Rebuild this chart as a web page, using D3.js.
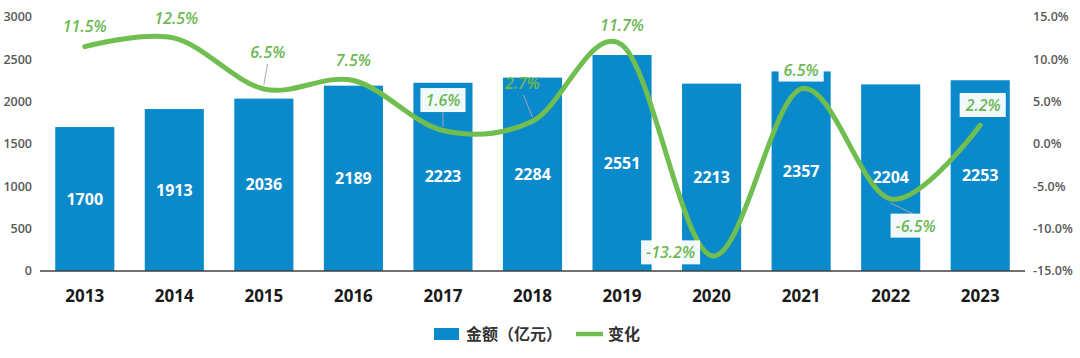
<!DOCTYPE html>
<meta charset="utf-8">
<style>
body { margin: 0; background: #fff; }
text { font-family: "Open Sans", "Noto Sans CJK SC", sans-serif; }
</style>
<svg width="1080" height="358"></svg>
<script src="https://d3js.org/d3.v7.min.js"></script>
<script>

// data
var years = ["2013", "2014", "2015", "2016", "2017", "2018", "2019", "2020", "2021", "2022", "2023"];
var amounts = [1700, 1913, 2036, 2189, 2223, 2284, 2551, 2213, 2357, 2204, 2253];
var changes = [11.5, 12.5, 6.5, 7.5, 1.6, 2.7, 11.7, -13.2, 6.5, -6.5, 2.2];
var leftTicks = [0, 500, 1000, 1500, 2000, 2500, 3000];
var rightTicks = [-15, -10, -5, 0, 5, 10, 15];

// label placement for the % labels (dx, dy from the point, boxed, leader)
var labelLayout = [
  { dx: 0,   dy: -20, box: false, leader: false },
  { dx: 2,   dy: -20, box: false, leader: false },
  { dx: 4,   dy: -37, box: false, leader: true },
  { dx: 0,   dy: -20, box: false, leader: false },
  { dx: 0,   dy: -30, box: true,  leader: true },
  { dx: -10, dy: -38, box: false, leader: true },
  { dx: 0,   dy: -20, box: false, leader: false },
  { dx: -41, dy: -3,  box: true,  leader: false },
  { dx: 0,   dy: -19, box: true,  leader: false },
  { dx: 25,  dy: 27,  box: true,  leader: true },
  { dx: 3,   dy: -20, box: true,  leader: false }
];

var barColour = "#0a8acb";
var lineColour = "#6fbe4f";
var labelGreen = "#6cb852";

var svg = d3.select("svg");

var x = d3.scaleBand().domain(years).range([40, 1025]).paddingInner(0.34).paddingOuter(0.17);
var yL = d3.scaleLinear().domain([0, 3000]).range([271, 17]);
var yR = d3.scaleLinear().domain([-15, 15]).range([271, 17]);

// left axis labels
svg.append("g").selectAll("text")
    .data(leftTicks)
    .enter().append("text")
    .attr("x", 32)
    .attr("y", function(d) { return yL(d); })
    .attr("dy", "0.35em")
    .attr("text-anchor", "end")
    .style("font-size", "12.5px")
    .style("font-weight", 600)
    .style("fill", "#595959")
    .text(function(d) { return d; });

// right axis labels
svg.append("g").selectAll("text")
    .data(rightTicks)
    .enter().append("text")
    .attr("x", 1033)
    .attr("y", function(d) { return yR(d); })
    .attr("dy", "0.35em")
    .style("font-size", "12.5px")
    .style("font-weight", 600)
    .style("fill", "#595959")
    .text(function(d) { return d.toFixed(1) + "%"; });

// bars
svg.append("g").selectAll("rect")
    .data(amounts)
    .enter().append("rect")
    .attr("x", function(d, i) { return x(years[i]); })
    .attr("y", function(d) { return yL(d); })
    .attr("width", x.bandwidth())
    .attr("height", function(d) { return yL(0) - yL(d); })
    .style("fill", barColour);

// bar value labels
svg.append("g").selectAll("text")
    .data(amounts)
    .enter().append("text")
    .attr("x", function(d, i) { return x(years[i]) + x.bandwidth() / 2; })
    .attr("y", function(d) { return (yL(d) + yL(0)) / 2; })
    .attr("dy", "0.35em")
    .attr("text-anchor", "middle")
    .style("font-size", "16px")
    .style("font-weight", 700)
    .style("fill", "#fff")
    .text(function(d) { return d; });

// x axis line
svg.append("line")
    .attr("x1", 40).attr("x2", 1025)
    .attr("y1", yL(0)).attr("y2", yL(0))
    .style("stroke", "#404040")
    .style("stroke-width", 1.5);

// year labels
svg.append("g").selectAll("text")
    .data(years)
    .enter().append("text")
    .attr("x", function(d) { return x(d) + x.bandwidth() / 2; })
    .attr("y", 296)
    .attr("dy", "0.35em")
    .attr("text-anchor", "middle")
    .style("font-size", "17px")
    .style("font-weight", 700)
    .style("fill", "#1a1a1a")
    .text(function(d) { return d; });

// the smoothed change line
var pts = changes.map(function(d, i) { return [x(years[i]) + x.bandwidth() / 2, yR(d)]; });

svg.append("path")
    .attr("d", d3.line().curve(d3.curveCardinal.tension(0))(pts))
    .style("fill", "none")
    .style("stroke", lineColour)
    .style("stroke-width", 5)
    .style("stroke-linecap", "round");

// % labels
var lab = svg.append("g");
changes.forEach(function(d, i) {
  var L = labelLayout[i];
  var cx = pts[i][0] + L.dx, cy = pts[i][1] + L.dy;
  if (L.leader) {
    var ly = L.dy < 0 ? cy + 12 : cy - 12;
    lab.append("line")
       .attr("x1", cx - L.dx * 0.1).attr("y1", ly)
       .attr("x2", pts[i][0]).attr("y2", pts[i][1] + (L.dy < 0 ? -4 : 4))
       .style("stroke", "#a6a6a6")
       .style("stroke-width", 1);
  }
  var t = lab.append("text")
       .attr("x", cx).attr("y", cy)
       .attr("dy", "0.35em")
       .attr("text-anchor", "middle")
       .style("font-size", "16px")
       .style("font-weight", 600)
       .style("font-style", "italic")
       .style("fill", labelGreen)
       .text(d.toFixed(1) + "%");
  if (L.box) {
    var bb = t.node().getBBox();
    lab.insert("rect", function() { return t.node(); })
       .attr("x", bb.x - 5).attr("y", bb.y - 1)
       .attr("width", bb.width + 10).attr("height", bb.height + 2)
       .style("fill", "#fff")
       .style("opacity", 0.95);
  }
});

// legend
var lg = svg.append("g");
lg.append("rect").attr("x", 434).attr("y", 328).attr("width", 25).attr("height", 12).style("fill", barColour);
lg.append("text").attr("x", 466).attr("y", 334).attr("dy", "0.35em")
  .style("font-size", "16px").style("font-weight", 700).style("fill", "#333")
  .text("金额（亿元）");
lg.append("line").attr("x1", 576).attr("x2", 603).attr("y1", 334).attr("y2", 334)
  .style("stroke", lineColour).style("stroke-width", 4.5);
lg.append("text").attr("x", 608).attr("y", 334).attr("dy", "0.35em")
  .style("font-size", "16px").style("font-weight", 700).style("fill", "#333")
  .text("变化");

</script>
